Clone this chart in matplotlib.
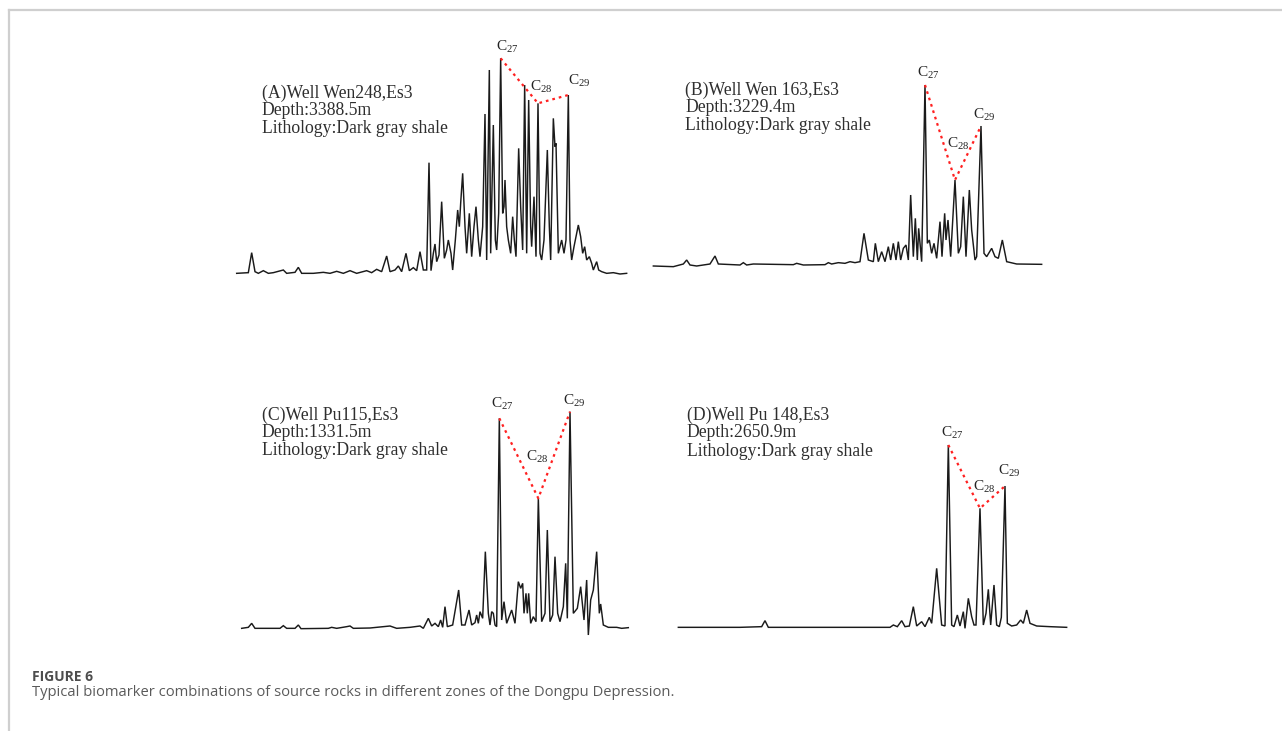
import matplotlib
matplotlib.use("Agg")
import matplotlib.pyplot as plt
from matplotlib.lines import Line2D
import numpy as np

plt.rcParams['mathtext.fontset'] = 'custom'
plt.rcParams['mathtext.rm'] = 'Liberation Serif'
plt.rcParams['mathtext.it'] = 'Liberation Serif'

# ---------------- data (retention position, relative abundance) ----------------
rt_A = [20, 55, 65, 75, 85, 100, 115, 130, 160, 170, 195, 205, 215, 250, 280, 300, 320, 340, 360, 380,
        410, 425, 440, 455, 470, 480, 495, 505, 515, 528, 538, 550, 560, 570, 580, 590, 597, 603, 610, 615,
        620, 627, 635, 643, 650, 655, 663, 668, 676, 683, 688, 692, 698, 705, 710, 718, 725, 732, 738, 745,
        750, 758, 765, 770, 778, 782, 790, 796, 800, 806, 812, 818, 822, 825, 830, 835, 842, 848, 853, 858,
        866, 872, 878, 884, 890, 896, 902, 905, 912, 918, 924, 930, 935, 942, 952, 958, 962, 970, 975, 978,
        985, 990, 995, 1002, 1008, 1015, 1020, 1025, 1032, 1045, 1052, 1058, 1064, 1070, 1078, 1085, 1090, 1100, 1106, 1115,
        1130, 1150, 1170, 1190]
ab_A = [0, 2, 62, 5, 0, 8, 0, 2, 10, 0, 3, 18, 0, 0, 3, 0, 6, 0, 8, 0,
        8, 2, 12, 5, 52, 5, 10, 22, 5, 60, 8, 17, 8, 65, 10, 10, 332, 8, 60, 88,
        35, 55, 215, 45, 70, 100, 60, 10, 100, 190, 140, 210, 300, 140, 60, 180, 50, 140, 200, 100,
        50, 140, 478, 40, 610, 60, 445, 100, 70, 180, 645, 180, 200, 280, 140, 100, 60, 170, 100, 50,
        375, 200, 70, 565, 60, 520, 140, 80, 230, 50, 510, 60, 40, 100, 370, 140, 40, 465, 380, 390,
        60, 80, 100, 60, 100, 535, 100, 40, 80, 145, 110, 60, 80, 40, 50, 30, 10, 35, 10, 5,
        0, 2, -2, 0]

rt_B = [40, 100, 130, 140, 150, 170, 210, 225, 235, 300, 310, 320, 340, 460, 470, 490, 555, 565, 575, 595,
        615, 630, 645, 660, 672, 685, 700, 706, 715, 725, 735, 745, 752, 760, 768, 775, 782, 790, 798, 805,
        812, 820, 826, 832, 836, 845, 855, 862, 868, 875, 882, 890, 900, 906, 914, 918, 924, 932, 945, 955,
        962, 970, 978, 988, 995, 1005, 1010, 1023, 1032, 1040, 1055, 1065, 1075, 1087, 1100, 1130, 1205]
ab_B = [-3, -5, 3, 15, 0, -3, 3, 27, 3, 0, 7, 0, 3, 1, 5, 0, 1, 7, 3, 7,
        5, 10, 7, 10, 95, 15, 10, 65, 10, 40, 10, 55, 15, 65, 15, 70, 15, 50, 60, 15,
        210, 25, 140, 15, 110, 10, 540, 65, 75, 35, 65, 20, 130, 25, 155, 75, 135, 25, 255, 35,
        55, 205, 25, 225, 105, 15, 25, 417, 35, 25, 50, 25, 20, 75, 10, 3, 2]

rt_C = [35, 55, 65, 75, 150, 160, 170, 195, 205, 213, 295, 305, 320, 350, 360, 370, 420, 440, 460, 480,
        500, 540, 570, 580, 595, 605, 615, 625, 632, 638, 645, 652, 668, 686, 695, 705, 717, 725, 735, 740,
        745, 750, 758, 766, 775, 780, 785, 790, 795, 800, 808, 815, 822, 830, 845, 855, 865, 872, 878, 882,
        888, 892, 896, 902, 910, 918, 925, 935, 945, 952, 960, 968, 975, 983, 990, 1000, 1007, 1012, 1020, 1030,
        1042, 1052, 1062, 1070, 1075, 1082, 1090, 1100, 1108, 1112, 1120, 1135, 1160, 1175, 1195]
ab_C = [0, 3, 15, 0, 0, 8, 0, 0, 10, -1, 0, 3, 0, 5, 7, 0, 1, 3, 5, 7,
        0, 3, 7, 0, 30, 7, 15, 5, 25, 3, 65, 5, 10, 115, 10, 10, 55, 10, 17, 40,
        15, 50, 30, 230, 45, 10, 50, 45, 10, 5, 630, 25, 80, 15, 55, 15, 140, 120, 135, 45,
        105, 45, 105, 15, 35, 20, 390, 20, 45, 295, 20, 40, 215, 45, 20, 65, 195, 30, 650, 45,
        60, 125, 25, 145, -20, 85, 115, 230, 45, 73, 10, 3, 3, 0, 2]

rt_D = [55, 240, 305, 315, 325, 690, 700, 712, 725, 735, 748, 760, 770, 785, 795, 808, 815, 830, 845, 855,
        865, 875, 882, 892, 900, 910, 915, 925, 935, 942, 948, 960, 970, 978, 985, 992, 1002, 1010, 1018, 1024,
        1035, 1042, 1055, 1070, 1082, 1090, 1100, 1110, 1130, 1170, 1220]
ab_D = [-2, -2, 0, 18, -2, -2, 5, 0, 18, 0, 2, 60, 2, 15, 0, 28, 10, 175, 5, 2,
        545, 5, 0, 35, 2, 45, -5, 85, 30, 5, 5, 355, 5, 40, 112, 5, 125, 5, 0, 28,
        422, 10, 2, 5, 20, 10, 50, 10, 2, 0, -2]

# positions of the C27, C28, C29 sterane peaks
sterane_A = [812, 924, 1015]
sterane_B = [855, 945, 1023]
sterane_C = [808, 925, 1020]
sterane_D = [865, 960, 1035]

sterane_labels = ["27", "28", "29"]

titles_A = ["(A)Well Wen248,Es3", "Depth:3388.5m", "Lithology:Dark gray shale"]
titles_B = ["(B)Well Wen 163,Es3", "Depth:3229.4m", "Lithology:Dark gray shale"]
titles_C = ["(C)Well Pu115,Es3", "Depth:1331.5m", "Lithology:Dark gray shale"]
titles_D = ["(D)Well Pu 148,Es3", "Depth:2650.9m", "Lithology:Dark gray shale"]

caption_title = "FIGURE 6"
caption_text = "Typical biomarker combinations of source rocks in different zones of the Dongpu Depression."

# ---------------- layout ----------------
W, H = 1282, 731
fig = plt.figure(figsize=(W / 100, H / 100), dpi=100)
fig.patch.set_facecolor("white")

# frame decoration
fig.add_artist(Line2D([9 / W, 1.0], [1 - 9.5 / H, 1 - 9.5 / H], color="#cfcfcf", lw=1.6))
fig.add_artist(Line2D([9 / W, 9 / W], [0, 1 - 9.5 / H], color="#cfcfcf", lw=1.6))

# panel placement (pixel origin of the sampled window, baseline in window units, 3 units = 1 px)
panels = [
    dict(rt=rt_A, ab=ab_A, st=sterane_A, titles=titles_A, origin=(230, 40), base=700,
         title_x=95, title_y=[160, 212, 265], lab=[(797, 20), (900, 140), (1015, 122)]),
    dict(rt=rt_B, ab=ab_B, st=sterane_B, titles=titles_B, origin=(640, 40), base=675,
         title_x=135, title_y=[150, 203, 255], lab=[(830, 98), (920, 313), (1000, 225)]),
    dict(rt=rt_C, ab=ab_C, st=sterane_C, titles=titles_C, origin=(230, 380), base=745,
         title_x=95, title_y=[105, 158, 212], lab=[(782, 72), (888, 230), (1000, 62)]),
    dict(rt=rt_D, ab=ab_D, st=sterane_D, titles=titles_D, origin=(660, 380), base=740,
         title_x=80, title_y=[105, 158, 213], lab=[(843, 160), (940, 322), (1015, 273)]),
]

below, above = 15, 250  # px below / above baseline
for p in panels:
    ox, oy = p["origin"]
    x0, x1 = p["rt"][0], p["rt"][-1]
    left_px = ox + x0 / 3
    right_px = ox + x1 / 3
    base_py = oy + p["base"] / 3
    ax = fig.add_axes([left_px / W, 1 - (base_py + below) / H,
                       (right_px - left_px) / W, (below + above) / H])
    ax.set_xlim(x0, x1)
    ax.set_ylim(-below * 3, above * 3)
    ax.axis("off")

    rt = np.array(p["rt"], dtype=float)
    ab = np.array(p["ab"], dtype=float)
    ax.plot(rt, ab, color="#1a1a1a", lw=1.05, solid_joinstyle="miter", clip_on=False)

    # dotted red line joining the C27-C28-C29 peak tops
    tops = [ab[np.argmin(np.abs(rt - s))] for s in p["st"]]
    ax.plot(p["st"], tops, color="#ff2020", lw=1.6, ls=(0, (1.2, 1.8)), clip_on=False)

    for (lx, ly), sub in zip(p["lab"], sterane_labels):
        ax.text(lx, p["base"] - ly, r"C$_{\mathrm{%s}}$" % sub, ha="left", va="center",
                fontsize=11, family="Liberation Serif", color="#222222", clip_on=False)

    for t, ty in zip(p["titles"], p["title_y"]):
        ax.text(p["title_x"], p["base"] - ty, t, ha="left", va="center",
                fontsize=12.7, family="Liberation Serif", color="#2e2e2e", clip_on=False)

fig.text(32 / W, 1 - 677 / H, caption_title, ha="left", va="center", fontsize=10,
         family="Open Sans", fontweight="bold", color="#4d4d4d")
fig.text(32 / W, 1 - 692 / H, caption_text, ha="left", va="center", fontsize=10.6,
         family="Open Sans", color="#5a5a5a")

fig.savefig("out.png", dpi=100, facecolor="white")
